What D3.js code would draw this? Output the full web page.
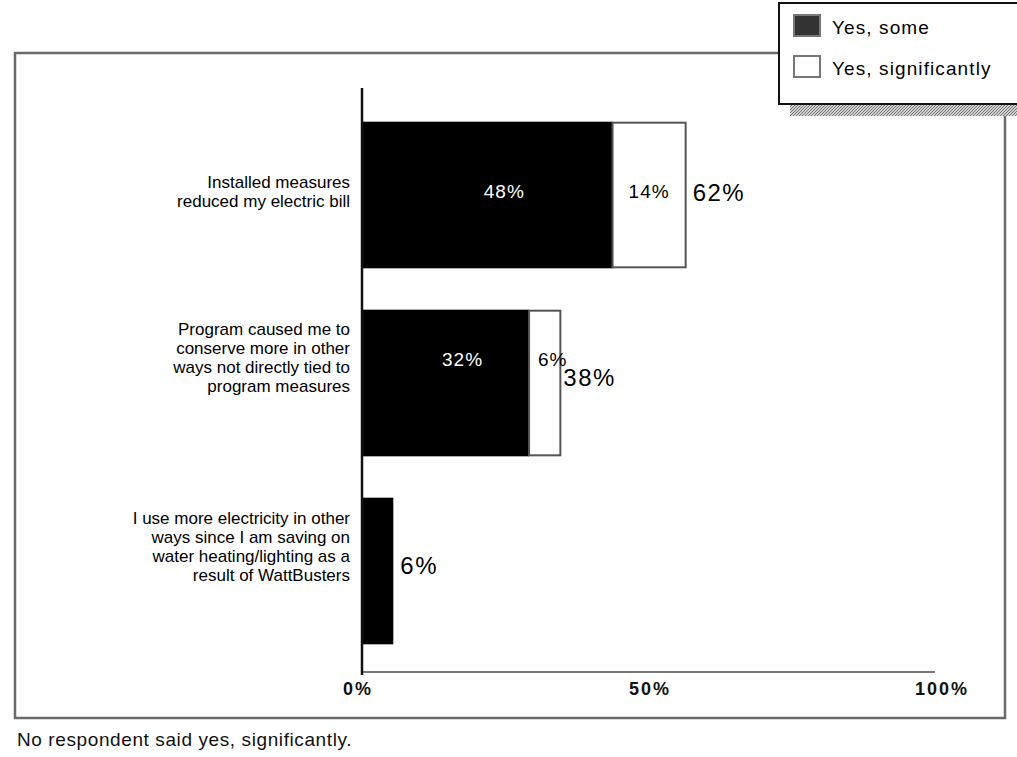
<!DOCTYPE html>
<html>
<head>
<meta charset="utf-8">
<script src="https://cdn.jsdelivr.net/npm/d3@7"></script>
<style>
  body { margin: 0; background: #fff; }
  svg { font-family: "Liberation Sans", Arial, Helvetica, sans-serif; }
</style>
</head>
<body>
<div id="chart"></div>
<script>
// categories, each label split in lines as in the original
var categories = [
  ["Installed measures", "reduced my electric bill"],
  ["Program caused me to", "conserve more in other", "ways not directly tied to", "program measures"],
  ["I use more electricity in other", "ways since I am saving on", "water heating/lighting as a", "result of WattBusters"]
];
var yesSome = [48, 32, 6];
var yesSignificantly = [14, 6, 0];
var totals = [62, 38, 6];
var seriesNames = ["Yes, some", "Yes, significantly"];
var tickValues = [0, 50, 100];
var footnote = "No respondent said yes, significantly.";

var width = 1017, height = 757;

var svg = d3.select("#chart").append("svg")
    .attr("width", width)
    .attr("height", height);

var defs = svg.append("defs");
var hatch = defs.append("pattern")
    .attr("id", "hatch")
    .attr("width", 3).attr("height", 3)
    .attr("patternUnits", "userSpaceOnUse");
hatch.append("rect").attr("width", 3).attr("height", 3).attr("fill", "#d0d0d0");
hatch.append("path").attr("d", "M0,3 L3,0").attr("stroke", "#777").attr("stroke-width", 1);

// outer frame
svg.append("rect")
    .attr("x", 15).attr("y", 53)
    .attr("width", 990).attr("height", 665)
    .attr("fill", "none")
    .attr("stroke", "#6a6a6a")
    .attr("stroke-width", 2.5);

// scales: bars and tick labels don't share the same spacing in the original
var x0 = 362;
var xScale = d3.scaleLinear().domain([0, 100]).range([x0, 884]);
var axisScale = d3.scaleLinear().domain([0, 100]).range([x0, 935]);
var tickScale = d3.scaleLinear().domain([0, 100]).range([358, 942]);
var yScale = d3.scaleBand()
    .domain(d3.range(categories.length))
    .range([101, 665])
    .paddingInner(0.22)
    .paddingOuter(0.11);

var axisY = 672;

// horizontal axis line
svg.append("line")
    .attr("x1", x0).attr("x2", axisScale(100))
    .attr("y1", axisY).attr("y2", axisY)
    .attr("stroke", "#777").attr("stroke-width", 2);

svg.selectAll(".tick-label")
    .data(tickValues)
  .enter().append("text")
    .attr("class", "tick-label")
    .attr("x", function (d) { return tickScale(d); })
    .attr("y", axisY + 23)
    .attr("text-anchor", "middle")
    .attr("font-size", 18)
    .attr("font-weight", "bold")
    .attr("letter-spacing", 2)
    .attr("fill", "#111")
    .text(function (d) { return d + "%"; });

// bars
var rows = svg.selectAll(".row")
    .data(categories.map(function (c, i) { return i; }))
  .enter().append("g")
    .attr("class", "row");

function mid(i) { return yScale(i) + yScale.bandwidth() / 2; }

rows.append("rect")
    .attr("x", xScale(0))
    .attr("y", function (i) { return yScale(i); })
    .attr("width", function (i) { return xScale(yesSome[i]) - xScale(0); })
    .attr("height", yScale.bandwidth())
    .attr("fill", "#000");

var split = rows.filter(function (i) { return yesSignificantly[i] > 0; });

split.append("rect")
    .attr("x", function (i) { return xScale(yesSome[i]); })
    .attr("y", function (i) { return yScale(i) + 1; })
    .attr("width", function (i) { return xScale(yesSome[i] + yesSignificantly[i]) - xScale(yesSome[i]); })
    .attr("height", yScale.bandwidth() - 2)
    .attr("fill", "#fff")
    .attr("stroke", "#555")
    .attr("stroke-width", 2);

// segment labels (only on the split bars, as in the original)
var labelShift = [3, -17, 0];
split.append("text")
    .attr("x", function (i) { return (xScale(0) + xScale(yesSome[i])) / 2 + 17; })
    .attr("y", function (i) { return mid(i) + labelShift[i]; })
    .attr("text-anchor", "middle")
    .attr("font-size", 19)
    .attr("letter-spacing", 1)
    .attr("fill", "#fff")
    .text(function (i) { return yesSome[i] + "%"; });

split.append("text")
    .attr("x", function (i) { return (xScale(yesSome[i]) + xScale(yesSome[i] + yesSignificantly[i])) / 2 + (i === 1 ? 8 : 0); })
    .attr("y", function (i) { return mid(i) + labelShift[i]; })
    .attr("text-anchor", "middle")
    .attr("font-size", 19)
    .attr("letter-spacing", 1)
    .attr("fill", "#000")
    .text(function (i) { return yesSignificantly[i] + "%"; });

// totals
var totalShift = [6, 3, 3];
rows.append("text")
    .attr("x", function (i) { return xScale(totals[i]) + (i === 1 ? 3 : 7); })
    .attr("y", function (i) { return mid(i) + totalShift[i]; })
    .attr("font-size", 24)
    .attr("letter-spacing", 1.5)
    .attr("fill", "#000")
    .text(function (i) { return totals[i] + "%"; });

// category labels
var catShift = [-4, -26, -25];
rows.append("text")
    .attr("text-anchor", "end")
    .attr("font-size", 17)
    .attr("fill", "#000")
    .each(function (i) {
      var lines = categories[i];
      var lh = 19;
      var start = mid(i) + catShift[i] - (lines.length - 1) * lh / 2 + 6;
      d3.select(this).selectAll("tspan")
        .data(lines)
        .enter().append("tspan")
          .attr("x", 350)
          .attr("y", function (d, k) { return start + k * lh; })
          .text(function (d) { return d; });
    });

// vertical axis
svg.append("line")
    .attr("x1", x0).attr("x2", x0)
    .attr("y1", 88).attr("y2", axisY + 3)
    .attr("stroke", "#111").attr("stroke-width", 2.5);

// legend
var legend = svg.append("g").attr("class", "legend");
legend.append("rect")
    .attr("x", 790).attr("y", 104)
    .attr("width", 240).attr("height", 12)
    .attr("fill", "url(#hatch)");
legend.append("rect")
    .attr("x", 779).attr("y", 3)
    .attr("width", 250).attr("height", 101)
    .attr("fill", "#fff")
    .attr("stroke", "#111")
    .attr("stroke-width", 2);

var swatchFill = ["#333", "#fff"];
var items = legend.selectAll(".item")
    .data(seriesNames)
  .enter().append("g")
    .attr("class", "item")
    .attr("transform", function (d, k) { return "translate(794," + (15 + k * 41) + ")"; });
items.append("rect")
    .attr("width", 26).attr("height", 21)
    .attr("fill", function (d, k) { return swatchFill[k]; })
    .attr("stroke", "#777")
    .attr("stroke-width", 2);
items.append("text")
    .attr("x", 38).attr("y", 19)
    .attr("font-size", 19)
    .attr("letter-spacing", 1.1)
    .attr("fill", "#000")
    .text(function (d) { return d; });

// footnote
svg.append("text")
    .attr("x", 17).attr("y", 746)
    .attr("font-size", 19)
    .attr("letter-spacing", 0.6)
    .attr("fill", "#111")
    .text(footnote);
</script>
</body>
</html>
